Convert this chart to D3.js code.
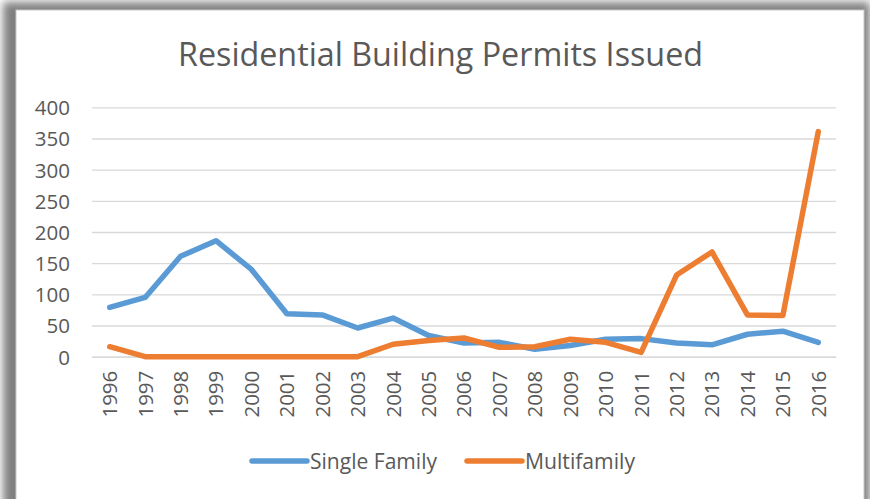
<!DOCTYPE html>
<html>
<head>
<meta charset="utf-8">
<script src="https://cdn.jsdelivr.net/npm/d3@7"></script>
<style>
    body { margin: 0; background: #fff; }
    text { font-family: "Open Sans", "Liberation Sans", sans-serif; fill: #595959; }
</style>
</head>
<body>
<svg id="chart" width="870" height="499"></svg>
<script>
// data
const years = ["1996", "1997", "1998", "1999", "2000", "2001", "2002", "2003", "2004", "2005", "2006",
    "2007", "2008", "2009", "2010", "2011", "2012", "2013", "2014", "2015", "2016"];
const singleFamily = [79, 95, 161, 186, 140, 69, 67, 46, 62, 34, 22, 23, 12, 18, 28, 29, 22, 19, 36, 41, 23];
const multifamily = [16, 0, 0, 0, 0, 0, 0, 0, 20, 26, 30, 15, 16, 28, 23, 7, 131, 168, 67, 66, 361];
const yTicks = [0, 50, 100, 150, 200, 250, 300, 350, 400];
const seriesNames = ["Single Family", "Multifamily"];
const colors = ["#5b9bd5", "#ed7d31"];

const svg = d3.select("#chart");

// frame with soft shadow
const defs = svg.append("defs");
defs.append("filter")
    .attr("id", "blur")
    .attr("x", "-5%").attr("y", "-5%").attr("width", "110%").attr("height", "110%")
    .append("feGaussianBlur")
    .attr("stdDeviation", 4);

svg.append("rect")
    .attr("x", 3).attr("y", 2)
    .attr("width", 867).attr("height", 510)
    .attr("fill", "#808080")
    .attr("filter", "url(#blur)");

svg.append("rect")
    .attr("x", 16).attr("y", 10)
    .attr("width", 848).attr("height", 495)
    .attr("fill", "#fff")
    .attr("stroke", "#c8c8c8");

const plotLeft = 92, plotRight = 836, plotTop = 107.3, plotBottom = 356.7;

const xScale = d3.scaleBand()
    .domain(years)
    .range([plotLeft, plotRight]);

const yScale = d3.scaleLinear()
    .domain([0, 400])
    .range([plotBottom, plotTop]);

// horizontal grid
svg.append("g")
    .attr("transform", `translate(${plotLeft},0)`)
    .call(d3.axisLeft(yScale)
        .tickValues(yTicks)
        .tickSize(-(plotRight - plotLeft))
        .tickFormat(""))
    .call(g => g.select(".domain").remove())
    .selectAll("line")
    .attr("stroke", "#d9d9d9")
    .attr("stroke-width", 1.3);

// y labels
svg.append("g")
    .attr("transform", `translate(${plotLeft},0)`)
    .call(d3.axisLeft(yScale).tickValues(yTicks).tickSize(0).tickPadding(22))
    .call(g => g.select(".domain").remove())
    .selectAll("text")
    .attr("font-size", 20.5)
    .attr("dy", "0.36em")
    .style("font-family", "'Open Sans', 'Liberation Sans', sans-serif")
    .style("fill", "#595959");

// x axis labels, rotated
svg.append("g")
    .attr("transform", `translate(0,${plotBottom})`)
    .call(d3.axisBottom(xScale).tickSize(0))
    .call(g => g.select(".domain")
        .attr("stroke", "#d9d9d9")
        .attr("stroke-width", 1.3))
    .selectAll("text")
    .attr("font-size", 20.5)
    .attr("transform", "rotate(-90)")
    .attr("x", -14)
    .attr("y", 0)
    .attr("dy", "0.36em")
    .style("text-anchor", "end")
    .style("font-family", "'Open Sans', 'Liberation Sans', sans-serif")
    .style("fill", "#595959");

const line = d3.line()
    .x((d, i) => xScale(years[i]) + xScale.bandwidth() / 2)
    .y(d => yScale(d));

[singleFamily, multifamily].forEach((series, k) => {
    svg.append("path")
        .datum(series)
        .attr("fill", "none")
        .attr("stroke", colors[k])
        .attr("stroke-width", 5.5)
        .attr("stroke-linejoin", "round")
        .attr("stroke-linecap", "round")
        .attr("d", line);
});

// title
svg.append("text")
    .attr("x", 440.5)
    .attr("y", 66)
    .attr("text-anchor", "middle")
    .attr("font-size", 33)
    .attr("font-weight", 400)
    .attr("textLength", 525)
    .attr("lengthAdjust", "spacingAndGlyphs")
    .text("Residential Building Permits Issued");

// legend
const legendX = [252, 467];
const legendW = [127, 110];
seriesNames.forEach((name, k) => {
    svg.append("line")
        .attr("x1", legendX[k]).attr("x2", legendX[k] + 55)
        .attr("y1", 461).attr("y2", 461)
        .attr("stroke", colors[k])
        .attr("stroke-width", 5.5)
        .attr("stroke-linecap", "round");
    svg.append("text")
        .attr("x", legendX[k] + 58)
        .attr("y", 469)
        .attr("font-size", 21)
        .attr("textLength", legendW[k])
        .attr("lengthAdjust", "spacingAndGlyphs")
        .text(name);
});
</script>
</body>
</html>
